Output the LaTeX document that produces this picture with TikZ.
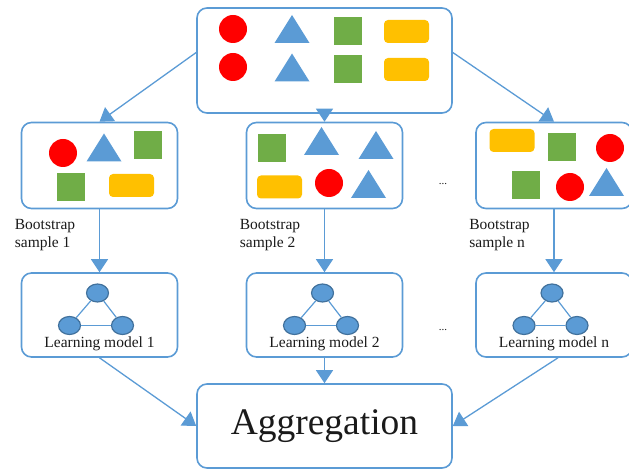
\documentclass[tikz,border=0pt]{standalone}
\usepackage{fontspec}
\setmainfont{Liberation Serif}
\usetikzlibrary{arrows.meta}
\usetikzlibrary{shapes.geometric}

\definecolor{lineblue}{HTML}{5B9BD5}
\definecolor{edgeblue}{HTML}{41719C}
\definecolor{ballred}{HTML}{FF0000}
\definecolor{sqgreen}{HTML}{70AD47}
\definecolor{bargold}{HTML}{FFC000}
\definecolor{inkgray}{HTML}{1A1A1A}

% little pictograms, centre given in pixels
\newcommand{\redball}[2]{\fill[ballred] (#1,#2) circle (14pt);}
\newcommand{\bluetri}[2]{\fill[lineblue] (#1-17.5,#2+14) -- (#1,#2-14) -- (#1+17.5,#2+14) -- cycle;}
\newcommand{\greensq}[2]{\fill[sqgreen] (#1-14,#2-14) rectangle (#1+14,#2+14);}
\newcommand{\goldbar}[2]{\fill[bargold, rounded corners=4pt] (#1-22.5,#2-11.5) rectangle (#1+22.5,#2+11.5);}

\begin{document}
\begin{tikzpicture}[x=1pt, y=-1pt,
  box/.style={draw=lineblue, line width=1.6pt, rounded corners=10pt, inner sep=0pt},
  arrow/.style={draw=lineblue, line width=1.3pt, -{Triangle[width=17pt,length=13pt]}},
  unit/.style={ellipse, fill=lineblue, draw=edgeblue, line width=1.2pt, minimum width=22pt, minimum height=18pt, inner sep=0pt},
  link/.style={draw=lineblue, line width=1.2pt},
  caption/.style={font=\fontsize{15.5}{18}\selectfont, text=inkgray, inner sep=0pt}]
\useasboundingbox (0,0) rectangle (629,470);

\node[box, minimum width=255pt, minimum height=105pt] (top) at (324.5,60.5) {};
\node[box, minimum width=255pt, minimum height=84pt, font=\fontsize{37.5}{40}\selectfont, text=inkgray] (agg) at (324.5,426) {Aggregation};

\foreach \i/\x in {1/99.5, 2/324.5, n/554} {
  \node[box, minimum width=156pt, minimum height=86pt] (s\i) at (\x,165.5) {};
  \node[box, minimum width=156pt, minimum height=84pt] (m\i) at (\x,315) {};
  \node[caption, anchor=north west, align=left] (b\i) at ([xshift=-6pt,yshift=-10pt]s\i.south west) {Bootstrap\\sample \i};
  \node[caption] (l\i) at (\x,344) {Learning model \i};
  \node[unit] (t\i) at (\x-2,293) {};
  \node[unit] (a\i) at (\x-30,325.5) {};
  \node[unit] (c\i) at (\x+23,325.5) {};
  \draw[link] (t\i) -- (a\i);
  \draw[link] (t\i) -- (c\i);
  \draw[link] (a\i) -- (c\i);
  \draw[arrow] (s\i) -- (m\i);
}

% the whole data set
\redball{233}{29} \redball{233}{67}
\bluetri{292}{29} \bluetri{292}{67.5}
\greensq{348}{31.5} \greensq{348}{69}
\goldbar{406.5}{31.5} \goldbar{406.5}{69.5}

% sample 1
\redball{63}{153} \bluetri{104}{147.5} \greensq{148}{145.5}
\greensq{70.5}{187} \goldbar{131.5}{185.5}

% sample 2
\greensq{271.5}{148} \bluetri{321.5}{141} \bluetri{376}{145}
\goldbar{279.5}{187} \redball{329}{183} \bluetri{368.5}{184}

% sample n
\goldbar{512}{140.5} \greensq{562}{147.5} \redball{610}{148}
\greensq{526}{185} \redball{570}{187} \bluetri{606.5}{182}

\node[font=\fontsize{11}{13}\selectfont, text=inkgray] (dots1) at (443,184) {...};
\node[font=\fontsize{11}{13}\selectfont, text=inkgray] (dots2) at (443,330) {...};

\draw[arrow] ([yshift=8pt]top.west) -- (s1.north);
\draw[arrow] (top) -- (s2);
\draw[arrow] ([yshift=8pt]top.east) -- (sn.north);

\draw[arrow] (m1.south) -- (agg.west);
\draw[arrow] (m2) -- (agg);
\draw[arrow] ([xshift=4pt]mn.south) -- (agg.east);
\end{tikzpicture}
\end{document}
